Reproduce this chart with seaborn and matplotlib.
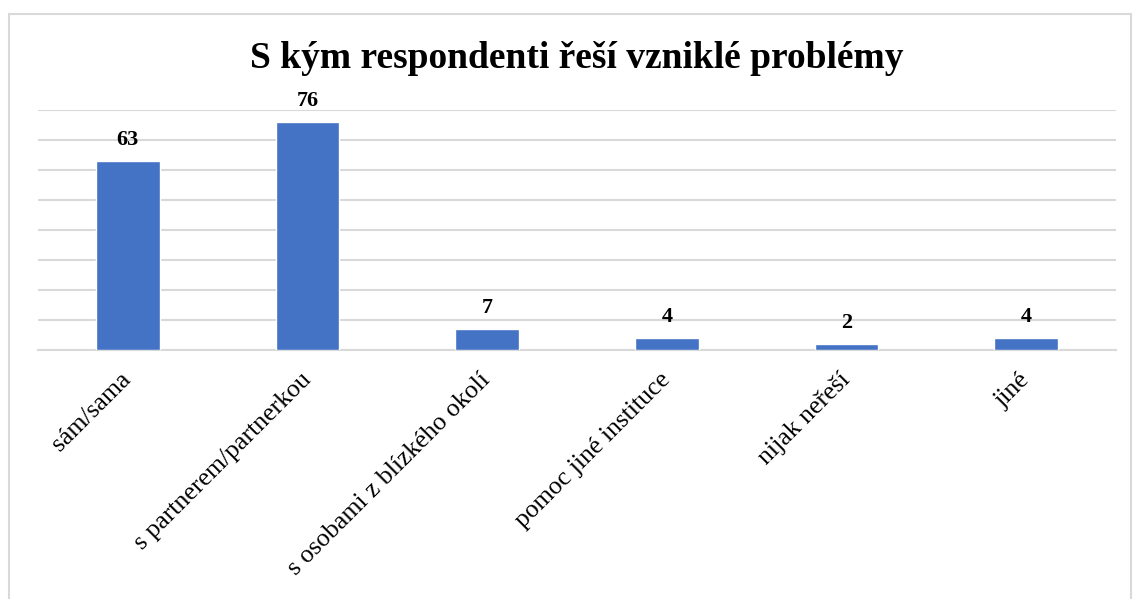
import matplotlib
matplotlib.use('Agg')
import matplotlib.pyplot as plt
import seaborn as sns
import pandas as pd
from matplotlib.patches import Rectangle

# data
categories = ['sám/sama', 's partnerem/partnerkou', 's osobami z blízkého okolí',
              'pomoc jiné instituce', 'nijak neřeší', 'jiné']
counts = [63, 76, 7, 4, 2, 4]

df = pd.DataFrame({'kategorie': categories, 'pocet': counts})

sns.set_theme(style='white')
plt.rcParams['font.family'] = ['Liberation Serif', 'DejaVu Serif']
plt.rcParams['text.color'] = 'black'

fig = plt.figure(figsize=(11.34, 5.99), dpi=100)
ax = fig.add_axes([38/1134, 1 - 350/599, (1116 - 38)/1134, 240/599])

sns.barplot(data=df, x='kategorie', y='pocet', color='#4472C4',
            width=0.356, saturation=1, ax=ax, zorder=3)

ax.set_ylim(0, 80)
ax.set_yticks(range(0, 81, 10))
ax.yaxis.grid(True, color='#D9D9D9', linewidth=1.5, zorder=0)
ax.tick_params(axis='y', left=False, labelleft=False)
ax.tick_params(axis='x', bottom=False, pad=13)
for side in ['top', 'right', 'left']:
    ax.spines[side].set_visible(False)
ax.spines['bottom'].set_color('#D9D9D9')
ax.spines['bottom'].set_linewidth(1.5)
ax.set_xlabel('')
ax.set_ylabel('')

ax.set_xticks(range(len(categories)))
ax.set_xticklabels(categories, rotation=45, ha='right', va='center',
                   rotation_mode='anchor', fontsize=18.5, color='black')

for i, v in enumerate(counts):
    ax.annotate(str(v), (i, v), xytext=(0, 11.5), textcoords='offset points',
                ha='center', va='baseline', fontsize=16, fontweight='bold',
                color='black')

fig.text(577/1134, 1 - 58/599, 'S kým respondenti řeší vzniklé problémy',
         ha='center', va='center', fontsize=27, fontweight='bold', color='black')

# chart border
fig.patches.append(Rectangle((8.5/1134, -0.05), (1131 - 8.5)/1134, 1.05 - 13.5/599,
                             transform=fig.transFigure, fill=False,
                             edgecolor='#D9D9D9', linewidth=1.5))

fig.savefig('out.png', dpi=100)
